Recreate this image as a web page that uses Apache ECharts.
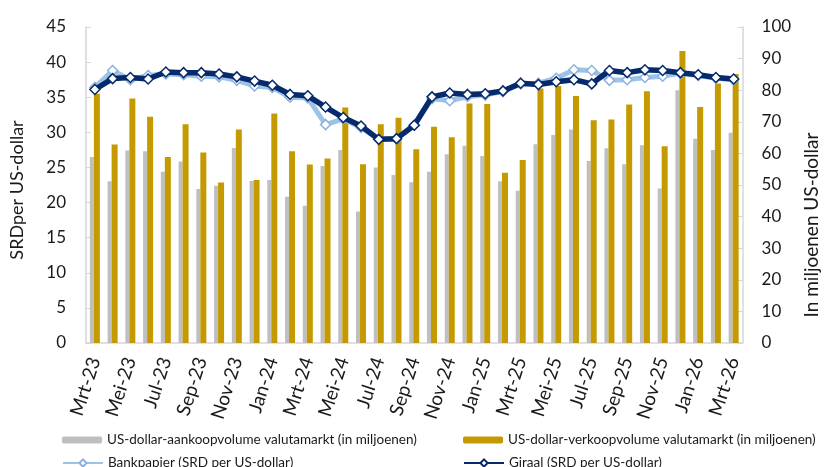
<!DOCTYPE html>
<html lang="nl">
<head>
<meta charset="UTF-8">
<title>Valutamarkt SRD / US-dollar</title>
<script src="https://cdn.jsdelivr.net/npm/echarts@6.0.0/dist/echarts.min.js"></script>
<style>
  html, body { margin: 0; padding: 0; background: #fff; }
  #chart { width: 829px; height: 467px; }
</style>
</head>
<body>
<div id="chart"></div>
<script>
// maanden (mrt-23 t/m mrt-26)
var maanden = [
  'Mrt-23', 'Apr-23', 'Mei-23', 'Jun-23', 'Jul-23', 'Aug-23', 'Sep-23', 'Okt-23', 'Nov-23', 'Dec-23',
  'Jan-24', 'Feb-24', 'Mrt-24', 'Apr-24', 'Mei-24', 'Jun-24', 'Jul-24', 'Aug-24', 'Sep-24', 'Okt-24', 'Nov-24', 'Dec-24',
  'Jan-25', 'Feb-25', 'Mrt-25', 'Apr-25', 'Mei-25', 'Jun-25', 'Jul-25', 'Aug-25', 'Sep-25', 'Okt-25', 'Nov-25', 'Dec-25',
  'Jan-26', 'Feb-26', 'Mrt-26'
];

// volumes in miljoenen US-dollar (rechteras)
var aankoop = [
  58.9, 51.2, 60.9, 60.7, 54.2, 57.4, 48.7, 49.8, 61.7, 51.3,
  51.6, 46.3, 43.4, 56.0, 61.1, 41.6, 55.5, 53.2, 50.9, 54.2, 59.7, 62.4,
  59.2, 51.2, 48.2, 62.9, 65.8, 67.6, 57.6, 61.6, 56.6, 62.6, 48.9, 80.0,
  64.6, 61.1, 66.5
];
var verkoop = [
  78.9, 62.8, 77.4, 71.6, 58.9, 69.2, 60.3, 50.8, 67.6, 51.6,
  72.6, 60.7, 56.5, 58.4, 74.5, 56.6, 69.2, 71.3, 61.3, 68.4, 65.1, 75.8,
  75.6, 53.9, 57.9, 80.5, 81.3, 78.2, 70.5, 70.7, 75.5, 79.7, 62.3, 92.4,
  74.7, 82.1, 85.1
];

// koersen SRD per US-dollar (linkeras)
var bankpapier = [
  36.4, 38.8, 37.5, 38.1, 38.3, 38.2, 38.0, 37.9, 37.4, 36.6,
  36.4, 35.0, 34.9, 31.1, 31.9, 30.7, 29.0, 29.1, 31.0, 34.8, 34.5, 35.1,
  35.3, 35.8, 36.9, 37.0, 37.7, 38.9, 38.8, 37.4, 37.5, 37.8, 38.0, 38.4,
  38.1, 37.7, 37.5
];
var giraal = [
  36.1, 37.65, 37.8, 37.6, 38.6, 38.5, 38.5, 38.3, 37.9, 37.3,
  36.7, 35.4, 35.2, 33.6, 32.1, 30.9, 29.0, 29.1, 31.0, 35.05, 35.6, 35.4,
  35.5, 35.9, 37.0, 36.8, 37.2, 37.5, 36.9, 38.8, 38.5, 38.9, 38.8, 38.5,
  38.2, 37.8, 37.6
];

var namen = [
  'US-dollar-aankoopvolume valutamarkt (in miljoenen)',
  'US-dollar-verkoopvolume valutamarkt (in miljoenen)',
  'Bankpapier (SRD per US-dollar)',
  'Giraal (SRD per US-dollar)'
];

var font = 'Lato';
var tekst = '#1a1a1a';
var asKleur = '#d6d6d6';
var legendTekst = { fontFamily: font, fontSize: 13.5, color: tekst };

var myChart = echarts.init(document.getElementById('chart'));
var option = {
  animation: false,
  backgroundColor: '#fff',
  grid: { left: 86, right: 62, top: 27, bottom: 124 },
  legend: [
    { data: [namen[0]], left: 62, top: 433, padding: 0, itemWidth: 40, itemHeight: 7, selectedMode: false, textStyle: legendTekst },
    { data: [namen[1]], left: 463, top: 433, padding: 0, itemWidth: 40, itemHeight: 7, selectedMode: false, textStyle: legendTekst },
    { data: [namen[2]], left: 62, top: 456, padding: 0, itemWidth: 40, itemHeight: 9, selectedMode: false, textStyle: legendTekst },
    { data: [namen[3]], left: 463, top: 456, padding: 0, itemWidth: 40, itemHeight: 9, selectedMode: false, textStyle: legendTekst }
  ],
  xAxis: {
    type: 'category',
    data: maanden,
    boundaryGap: true,
    axisLine: { lineStyle: { color: asKleur, width: 1.5 } },
    axisTick: { inside: true, length: 5, interval: 0, lineStyle: { color: asKleur } },
    axisLabel: { interval: 1, rotate: 72, margin: 15, fontFamily: font, fontSize: 19, color: tekst }
  },
  yAxis: [
    {
      type: 'value',
      min: 0, max: 45, interval: 5,
      name: 'SRDper US-dollar',
      nameLocation: 'middle',
      nameRotate: 90,
      nameGap: 60,
      nameTextStyle: { fontFamily: font, fontSize: 18, color: tekst, padding: [0, 10, 0, 0] },
      axisLine: { show: true, lineStyle: { color: asKleur, width: 1.5 } },
      axisTick: { show: true, inside: true, length: 5, lineStyle: { color: asKleur } },
      axisLabel: { margin: 20, fontFamily: font, fontSize: 17, color: tekst },
      splitLine: { show: false }
    },
    {
      type: 'value',
      position: 'right',
      min: 0, max: 100, interval: 10,
      name: 'In miljoenen US-dollar',
      nameLocation: 'middle',
      nameRotate: 90,
      nameGap: 57,
      nameTextStyle: { fontFamily: font, fontSize: 19, color: tekst, padding: [0, 80, 0, 0] },
      axisLine: { show: true, lineStyle: { color: asKleur, width: 1.5 } },
      axisTick: { show: true, inside: true, length: 5, lineStyle: { color: asKleur } },
      axisLabel: { margin: 19, fontFamily: font, fontSize: 17, color: tekst },
      splitLine: { show: false }
    }
  ],
  series: [
    {
      name: namen[0], type: 'bar', yAxisIndex: 1, data: aankoop,
      barWidth: 4, barGap: '0%',
      itemStyle: { color: '#bfbfbf' }
    },
    {
      name: namen[1], type: 'bar', yAxisIndex: 1, data: verkoop,
      barWidth: 6,
      itemStyle: { color: '#c49a00' }
    },
    {
      name: namen[2], type: 'line', yAxisIndex: 0, data: bankpapier,
      symbol: 'diamond', symbolSize: 10,
      lineStyle: { color: '#9dc3e6', width: 5 },
      itemStyle: { color: '#fff', borderColor: '#8ab2e2', borderWidth: 1.5 },
      z: 3
    },
    {
      name: namen[3], type: 'line', yAxisIndex: 0, data: giraal,
      symbol: 'diamond', symbolSize: 10,
      lineStyle: { color: '#062a6b', width: 5.5 },
      itemStyle: { color: '#fff', borderColor: '#062a6b', borderWidth: 1.5 },
      z: 4
    }
  ]
};
option && myChart.setOption(option);
</script>
</body>
</html>
